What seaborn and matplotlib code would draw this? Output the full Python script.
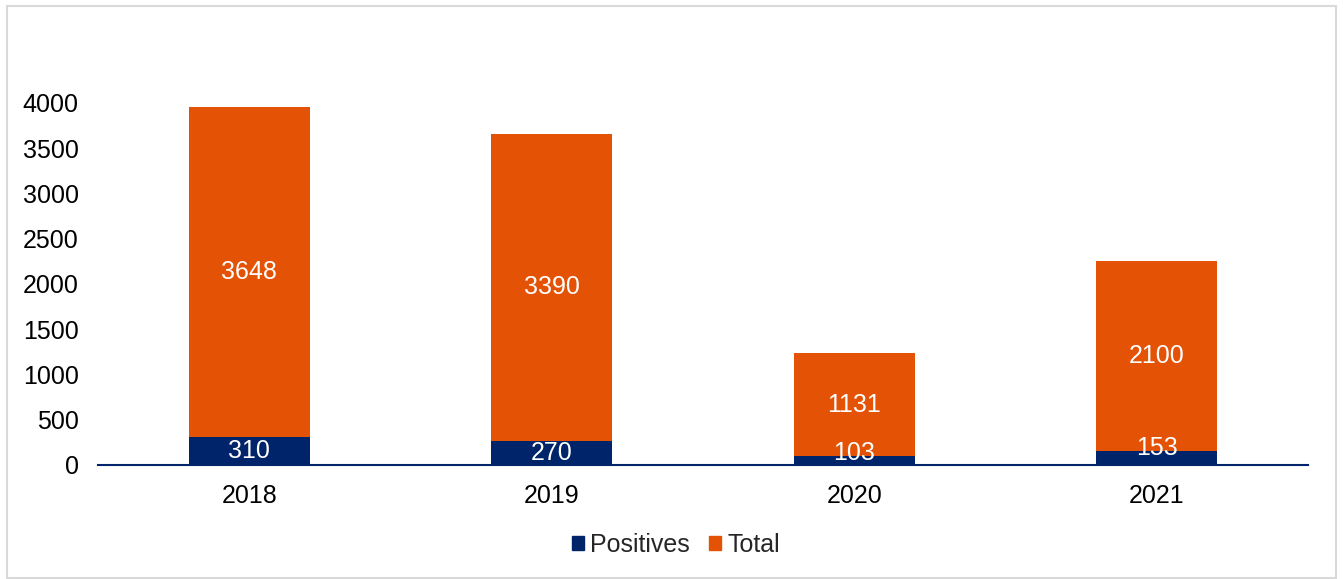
import matplotlib
import matplotlib.pyplot as plt
import seaborn as sns
import pandas as pd
from matplotlib.patches import Patch, Rectangle

matplotlib.use('Agg')

# data
years = ['2018', '2019', '2020', '2021']
positives = [310, 270, 103, 153]
total = [3648, 3390, 1131, 2100]
y_ticks = [0, 500, 1000, 1500, 2000, 2500, 3000, 3500, 4000]

navy = '#002469'
orange = '#E35205'
fs = 18

sns.set_theme(style='white')
plt.rcParams['font.family'] = ['Liberation Sans', 'DejaVu Sans']

df = pd.DataFrame({'year': years, 'positives': positives, 'total': total})
df['stack'] = df['positives'] + df['total']

fig = plt.figure(figsize=(13.43, 5.79), dpi=100)
ax = fig.add_axes([98 / 1343, 1 - 465 / 579, 1210 / 1343, 362 / 579])

# orange segment drawn full height, navy base drawn over it
sns.barplot(data=df, x='year', y='stack', color=orange, width=0.4,
            saturation=1, linewidth=0, ax=ax)
sns.barplot(data=df, x='year', y='positives', color=navy, width=0.4,
            saturation=1, linewidth=0, ax=ax)

for i, row in df.iterrows():
    p = row['positives']
    # small base segments get their label lifted, as in the reference
    ypos = p / 2 if p / 2 >= 120 else p + 33
    ax.text(i, ypos, str(p), ha='center', va='center', color='white', fontsize=fs)
    ax.text(i, p + row['total'] / 2, str(row['total']),
            ha='center', va='center', color='white', fontsize=fs)

ax.set_ylim(0, 4000)
ax.set_xlim(-0.5, 3.5)
ax.set_yticks(y_ticks)
ax.set_xlabel('')
ax.set_ylabel('')
ax.tick_params(axis='both', length=0, labelsize=fs, colors='black', pad=14)
for s in ['top', 'right', 'left']:
    ax.spines[s].set_visible(False)
ax.spines['bottom'].set_color(navy)
ax.spines['bottom'].set_linewidth(1.5)

handles = [Patch(color=navy, label='Positives'), Patch(color=orange, label='Total')]
fig.legend(handles=handles, loc='center', bbox_to_anchor=(676 / 1343, 1 - 545 / 579),
           ncol=2, frameon=False, fontsize=fs, handlelength=0.5, handleheight=0.5,
           handletextpad=0.25, columnspacing=0.75)

# light grey frame round the whole chart
fig.patches.append(Rectangle((7 / 1343, 1 / 579), 1329 / 1343, 572 / 579,
                             transform=fig.transFigure, fill=False,
                             edgecolor='#D9D9D9', linewidth=1.5))

plt.savefig('out.png', dpi=100)
